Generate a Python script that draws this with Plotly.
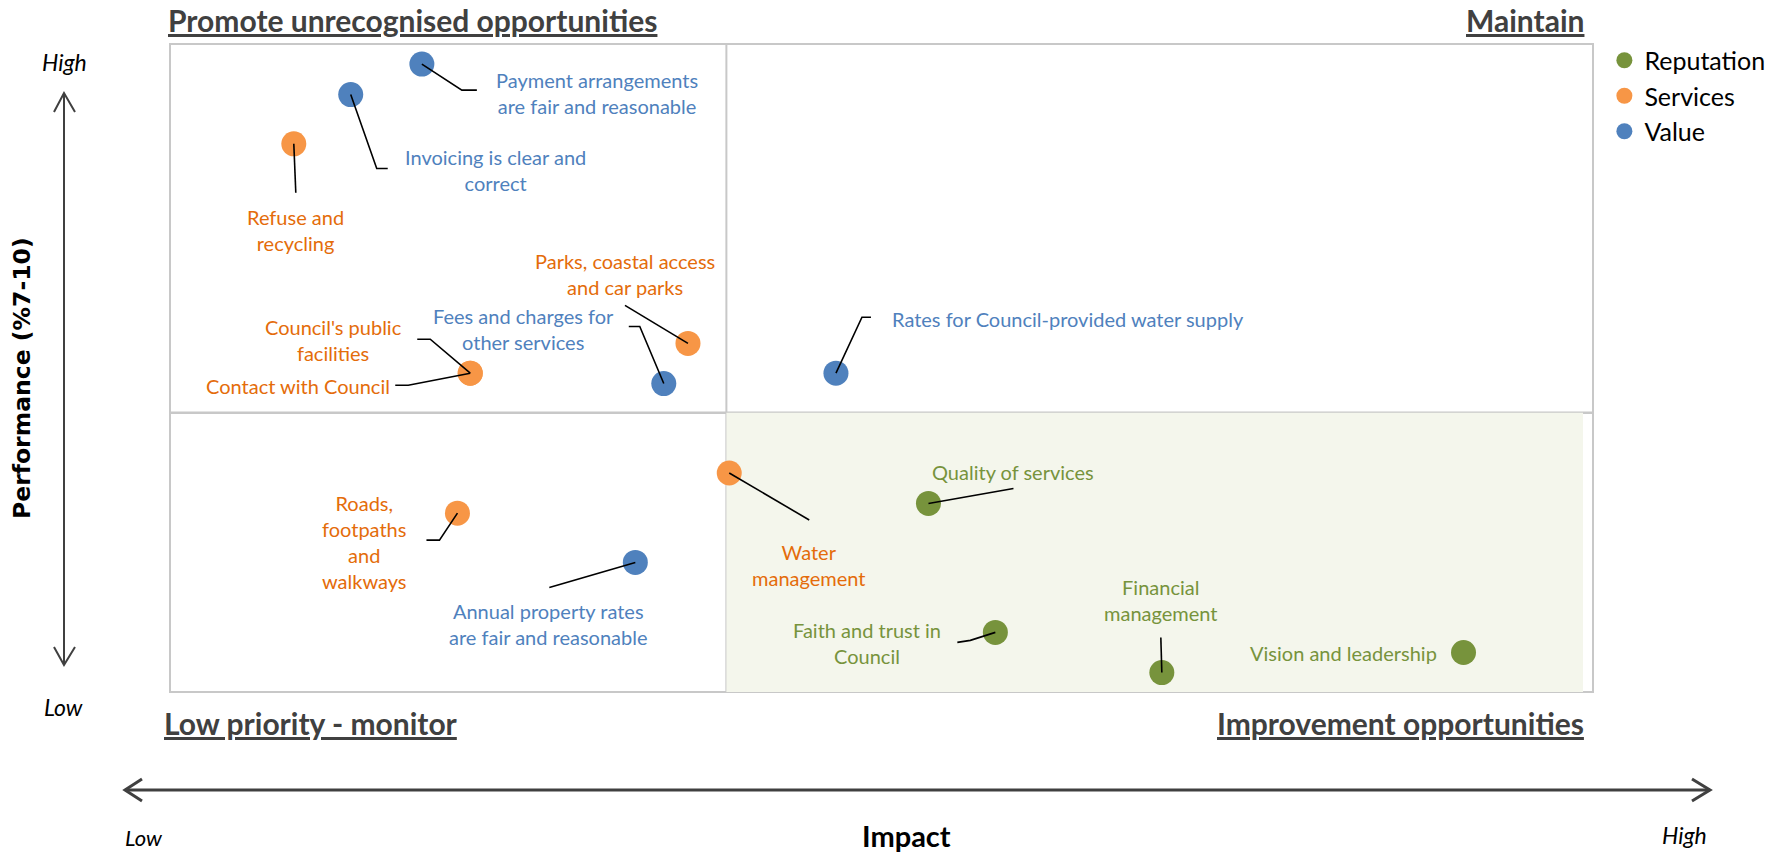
import plotly.graph_objects as go

# impact / performance scores (0-100 scale)
reputation_items = ["Quality of services", "Faith and trust in Council",
                    "Financial management", "Vision and leadership"]
reputation_impact = [53.3, 58.0, 69.7, 90.9]
reputation_perf = [29.1, 9.2, 3.0, 6.1]

services_items = ["Refuse and recycling", "Council's public facilities",
                  "Contact with Council", "Parks, coastal access and car parks",
                  "Roads, footpaths and walkways", "Water management"]
services_impact = [8.7, 21.1, 21.1, 36.4, 20.2, 39.3]
services_perf = [84.6, 49.2, 49.2, 53.8, 27.6, 33.8]

value_items = ["Payment arrangements are fair and reasonable",
               "Invoicing is clear and correct",
               "Fees and charges for other services",
               "Rates for Council-provided water supply",
               "Annual property rates are fair and reasonable"]
value_impact = [17.7, 12.7, 34.7, 46.8, 32.7]
value_perf = [96.9, 92.2, 47.6, 49.2, 20.0]

impact_split = 39.1
perf_split = 43.1

BLUE, ORANGE, GREEN = "#4F81BD", "#F79646", "#77933C"
BLUE_TXT, ORANGE_TXT, GREEN_TXT = "#4F81BD", "#E46C0A", "#77933C"
FONT = "Lato"

# label text, offset of label centre from point (px, y down), anchor, leader path (px, y down)
label_layout = {
    "Payment arrangements are fair and reasonable": ("Payment arrangements<br>are fair and reasonable", 175, 29, "center", [(40, 26), (55, 26)]),
    "Invoicing is clear and correct": ("Invoicing is clear and<br>correct", 145, 75, "center", [(26, 74), (37, 74)]),
    "Refuse and recycling": ("Refuse and<br>recycling", 2, 86, "center", [(2, 49)]),
    "Council's public facilities": ("Council's public<br>facilities", -137, -33, "center", [(-40, -34), (-53, -34)]),
    "Contact with Council": ("Contact with Council", -172, 13, "center", [(-62, 12), (-75, 12)]),
    "Parks, coastal access and car parks": ("Parks, coastal access<br>and car parks", -63, -69, "center", [(-63, -38)]),
    "Fees and charges for other services": ("Fees and charges for<br>other services", -140, -55, "center", [(-24, -57), (-35, -57)]),
    "Rates for Council-provided water supply": ("Rates for Council-provided water supply", 54, -54, "left", [(26, -56), (35, -56)]),
    "Roads, footpaths and walkways": ("Roads,<br>footpaths<br>and<br>walkways", -93, 29, "center", [(-18, 27), (-31, 27)]),
    "Annual property rates are fair and reasonable": ("Annual property rates<br>are fair and reasonable", -87, 62, "center", [(-86, 25)]),
    "Water management": ("Water<br>management", 80, 92, "center", [(80, 47)]),
    "Quality of services": ("Quality of services", 85, -31, "center", [(85, -15)]),
    "Faith and trust in Council": ("Faith and trust in<br>Council", -128, 11, "center", [(-25, 8), (-38, 10)]),
    "Financial management": ("Financial<br>management", -1, -73, "center", [(-1, -35)]),
    "Vision and leadership": ("Vision and leadership", -25, 1, "right", []),
}

# plot area in page pixels
L, T, R, B = 170, 44, 1593, 692
W, H = R - L, B - T


def pp(x, y):
    return (x - L) / W, (B - y) / H


def ppath(pts):
    out = []
    for i, (x, y) in enumerate(pts):
        px, py = pp(x, y)
        out.append(("M" if i == 0 else "L") + f"{px:.5f},{py:.5f}")
    return " ".join(out)


fig = go.Figure()
series = [
    ("Reputation", reputation_items, reputation_impact, reputation_perf, GREEN, GREEN_TXT),
    ("Services", services_items, services_impact, services_perf, ORANGE, ORANGE_TXT),
    ("Value", value_items, value_impact, value_perf, BLUE, BLUE_TXT),
]

shapes = [
    dict(type="rect", xref="x", yref="y", x0=impact_split, x1=99.3, y0=0, y1=perf_split,
         fillcolor="#F4F6EC", line=dict(width=0), layer="below"),
    dict(type="line", xref="x", yref="paper", x0=impact_split, x1=impact_split, y0=0, y1=1,
         line=dict(color="#C8C8C8", width=2), layer="below"),
    dict(type="line", xref="paper", yref="y", x0=0, x1=1, y0=perf_split, y1=perf_split,
         line=dict(color="#C8C8C8", width=2.5), layer="below"),
    dict(type="rect", xref="paper", yref="paper", x0=0, x1=1, y0=0, y1=1,
         line=dict(color="#C8C8C8", width=2), layer="below"),
]
annotations = []

for name, items, xs, ys, col, tcol in series:
    fig.add_trace(go.Scatter(x=xs, y=ys, mode="markers", name=name, text=items,
                             marker=dict(color=col, size=25),
                             hovertemplate="%{text}<extra></extra>", cliponaxis=False))
    for it, x, y in zip(items, xs, ys):
        txt, dx, dy, anchor, leader = label_layout[it]
        annotations.append(dict(x=x, y=y, xref="x", yref="y", text=txt, showarrow=False,
                                xshift=dx, yshift=-dy, xanchor=anchor, yanchor="middle",
                                align="center", font=dict(family=FONT, size=20, color=tcol)))
        if leader:
            path = "M0,0 " + " ".join(f"L{a},{-b}" for a, b in leader)
            shapes.append(dict(type="path", xref="x", yref="y", xsizemode="pixel",
                               ysizemode="pixel", xanchor=x, yanchor=y, path=path,
                               line=dict(color="black", width=1.6)))

# axis arrows
AX = "#404040"
shapes += [
    dict(type="path", xref="paper", yref="paper", path=ppath([(64, 93), (64, 665)]),
         line=dict(color=AX, width=2)),
    dict(type="path", xref="paper", yref="paper", path=ppath([(54, 112), (64, 93), (75, 112)]),
         line=dict(color=AX, width=2)),
    dict(type="path", xref="paper", yref="paper", path=ppath([(54, 647), (64, 665), (75, 647)]),
         line=dict(color=AX, width=2)),
    dict(type="path", xref="paper", yref="paper", path=ppath([(125, 790), (1710, 790)]),
         line=dict(color=AX, width=3)),
    dict(type="path", xref="paper", yref="paper", path=ppath([(142, 779), (125, 790), (142, 801)]),
         line=dict(color=AX, width=3)),
    dict(type="path", xref="paper", yref="paper", path=ppath([(1692, 779), (1710, 790), (1692, 801)]),
         line=dict(color=AX, width=3)),
]


def page_text(txt, x, y, size, anchor="center", color="black", family=FONT, angle=0):
    px, py = pp(x, y)
    annotations.append(dict(x=px, y=py, xref="paper", yref="paper", text=txt, showarrow=False,
                            xanchor=anchor, yanchor="middle", textangle=angle,
                            font=dict(family=family, size=size, color=color)))


TITLE = "#404040"
page_text("<b><u>Promote unrecognised opportunities</u></b>", 166, 20, 30, "left", TITLE)
page_text("<b><u>Maintain</u></b>", 1586, 20, 30, "right", TITLE)
page_text("<b><u>Low priority - monitor</u></b>", 162, 723, 30, "left", TITLE)
page_text("<b><u>Improvement opportunities</u></b>", 1586, 723, 30, "right", TITLE)

page_text("<i>High</i>", 64, 62, 23)
page_text("<i>Low</i>", 63, 707, 23)
page_text("<i>Low</i>", 144, 837, 22)
page_text("<i>High</i>", 1684, 835, 23)
page_text("<b>Impact</b>", 907, 835, 29)
page_text("<b>Performance (%7-10)</b>", 22, 378, 23.5, family="DejaVu Sans", angle=-90)

fig.update_layout(
    width=1792, height=854,
    margin=dict(l=L, r=1792 - R, t=T, b=854 - B),
    plot_bgcolor="white", paper_bgcolor="white",
    xaxis=dict(range=[0, 100], showgrid=False, zeroline=False, showticklabels=False, ticks=""),
    yaxis=dict(range=[0, 100], showgrid=False, zeroline=False, showticklabels=False, ticks=""),
    shapes=shapes, annotations=annotations,
    legend=dict(x=1.008, y=1.01, xanchor="left", yanchor="top",
                font=dict(family=FONT, size=25, color="black"), bgcolor="rgba(0,0,0,0)"),
    font=dict(family=FONT),
)

fig.write_html("out.html", config={"displayModeBar": False},
               post_script="document.body.style.margin='0';")
